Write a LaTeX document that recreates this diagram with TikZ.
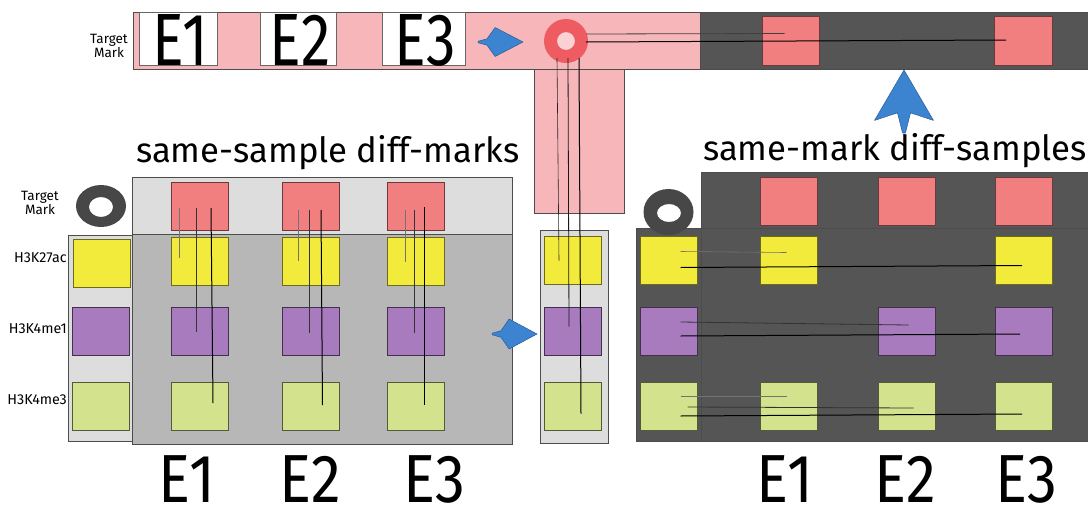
\documentclass[tikz,border=0pt]{standalone}
\usepackage{fontspec}
\setmainfont{Fira Sans}
\newfontfamily\condfont[FakeStretch=0.8]{Fira Sans}
\newfontfamily\widecondfont[FakeStretch=0.88]{Fira Sans}
\usetikzlibrary{calc}

\definecolor{pinkbar}{HTML}{F7B7BA}
\definecolor{ringred}{HTML}{EE5B61}
\definecolor{ringhole}{HTML}{FAD2D4}
\definecolor{redsq}{HTML}{F27F80}
\definecolor{yellowsq}{HTML}{F3EB3C}
\definecolor{purplesq}{HTML}{A77BBD}
\definecolor{greensq}{HTML}{D2E28D}
\definecolor{lightgrey}{HTML}{DDDDDD}
\definecolor{midgrey}{HTML}{B7B7B7}
\definecolor{darkbg}{HTML}{555555}
\definecolor{ringdark}{HTML}{474747}
\definecolor{arrowblue}{HTML}{3C84CF}
\definecolor{arrowedge}{HTML}{2A5C9A}

\tikzset{
  panel/.style={draw=black!70, line width=0.8pt},
  sq/.style={draw, line width=0.8pt, minimum width=57, minimum height=48, inner sep=0pt},
  redbox/.style={sq, fill=redsq, draw=redsq!45!black},
  yellowbox/.style={sq, fill=yellowsq, draw=yellowsq!45!black},
  purplebox/.style={sq, fill=purplesq, draw=purplesq!40!black},
  greenbox/.style={sq, fill=greensq, draw=greensq!40!black},
  linka/.style={draw=black!55, line width=0.6pt},
  linkb/.style={draw=black!80, line width=0.8pt},
  linkc/.style={draw=black, line width=1pt},
  rowlabel/.style={font=\fontsize{14.3}{14}\selectfont, anchor=east, inner sep=0pt},
  marklabel/.style={font=\fontsize{13.5}{11.5}\selectfont, align=center, inner sep=0pt},
  title/.style={font=\fontsize{34.7}{35}\selectfont, anchor=base west, inner sep=0pt},
  bigE/.style={font=\condfont\fontsize{74}{74}\selectfont, anchor=base, inner sep=0pt},
  bigEb/.style={font=\widecondfont\fontsize{68}{68}\selectfont, anchor=base, inner sep=0pt},
  arrowshape/.style={fill=arrowblue, draw=arrowedge, line width=0.5pt, line join=round},
}

% blue arrow: tip x, tip y, angle, length, half width, barb fraction, notch fraction
\newcommand\bluearrow[7]{%
  \filldraw[arrowshape, shift={(#1,#2)}, rotate=#3]
    (0,0) -- (-#6*#4, #5) -- (-#7*#4, 0.22*#5) -- (-#4, 0.05*#5)
    -- (-#4, -0.05*#5) -- (-#7*#4, -0.22*#5) -- (-#6*#4, -#5) -- cycle;}

\begin{document}
\begin{tikzpicture}[x=1pt, y=-1pt]
\useasboundingbox (0,0) rectangle (1088,509);

% ---------- top strip: target mark across samples ----------
\draw[panel, fill=pinkbar] (534,69) rectangle (624,213);
\draw[panel, fill=pinkbar] (133,12) rectangle (700,69);
\draw[panel, fill=darkbg] (700,12) rectangle (1088,69);

\node[marklabel] (tm-top) at (109,46) {Target\\Mark};

\draw[draw=black!60, line width=0.5pt, fill=white] (139,12) rectangle (217,65);
\draw[draw=black!60, line width=0.5pt, fill=white] (260,12) rectangle (336,65);
\draw[draw=black!60, line width=0.5pt, fill=white] (382,12) rectangle (465,65);
\node[bigE] (te1) at (180,65) {E1};
\node[bigE] (te2) at (300,65) {E2};
\node[bigE] (te3) at (425,65) {E3};

\bluearrow{523}{42}{0}{45}{14.5}{0.62}{0.8}

% red target ring
\fill[ringhole] (566,41) circle [radius=9];
\fill[ringred, even odd rule] (566,41) circle [radius=22] (566,41) circle [radius=9];

\node[redbox, minimum width=57, minimum height=49] (tr1) at (790.5,40.5) {};
\node[redbox, minimum width=58, minimum height=49] (tr2) at (1023,40.5) {};

% ---------- left panel: same sample, different marks ----------
\node[title] (title-l) at (136,162) {same-sample diff-marks};

\draw[panel, fill=lightgrey] (132,177) rectangle (512,234);
\draw[panel, fill=lightgrey] (68,235) rectangle (132,441);
\draw[panel, fill=midgrey] (132,234) rectangle (512,444);

\fill[ringdark, even odd rule] (101,206) ellipse [x radius=25, y radius=21]
                                (101,207) ellipse [x radius=12, y radius=10];
\node[marklabel] (tm-left) at (40,203) {Target\\Mark};
\node[rowlabel] (lab-y) at (67,258) {H3K27ac};
\node[rowlabel] (lab-p) at (67,329) {H3K4me1};
\node[rowlabel] (lab-g) at (67,400) {H3K4me3};

\node[yellowbox] (ls-y) at (101.5,263.5) {};
\node[purplebox] (ls-p) at (100.5,331.5) {};
\node[greenbox]  (ls-g) at (100.5,406) {};

\foreach \c/\x in {1/200, 2/310.5, 3/416} {
  \node[redbox]    (l\c-r) at (\x,206.5) {};
  \node[yellowbox] (l\c-y) at (\x,261) {};
  \node[purplebox] (l\c-p) at (\x,331.5) {};
  \node[greenbox]  (l\c-g) at (\x,406) {};
}

% links from each target mark down to the other marks of the same sample
\draw[linka] ([shift={(-21,1)}]l1-r.center) -- ([shift={(-21,-3)}]l1-y.center);
\draw[linkb] ([shift={(-4,1.5)}]l1-r.center) -- ([shift={(-4,0)}]l1-p.center);
\draw[linkc] ([shift={(11,1.5)}]l1-r.center) -- ([shift={(13,-3)}]l1-g.center);
\draw[linka] ([shift={(-12.5,3.5)}]l2-r.center) -- ([shift={(-12.5,0)}]l2-y.center);
\draw[linkb] ([shift={(-1.5,3.5)}]l2-r.center) -- ([shift={(-1.5,1.5)}]l2-p.center);
\draw[linkc] ([shift={(10.5,3.5)}]l2-r.center) -- ([shift={(12,-1)}]l2-g.center);
\draw[linka] ([shift={(-11,3.5)}]l3-r.center) -- ([shift={(-11,1)}]l3-y.center);
\draw[linkb] ([shift={(-2,3.5)}]l3-r.center) -- ([shift={(-2,1.5)}]l3-p.center);
\draw[linkc] ([shift={(8,0.5)}]l3-r.center) -- ([shift={(8,-1)}]l3-g.center);

% ---------- middle column: one sample's marks ----------
\draw[panel, fill=lightgrey] (540,230) rectangle (608,443);
\node[yellowbox] (m-y) at (573,260.5) {};
\node[purplebox] (m-p) at (573,331.5) {};
\node[greenbox]  (m-g) at (573,406.5) {};

\bluearrow{537}{334}{0}{45}{15}{0.62}{0.8}

% ring to middle column
\draw[linka, draw=black!85] (557,58) -- ([shift={(-14,0)}]m-y.center);
\draw[linkb, draw=black!90] (568,58) -- ([shift={(-4,-5)}]m-p.center);
\draw[linkc] (579,58) -- ([shift={(8,7)}]m-g.center);

% ring to top strip squares
\draw[linkb, draw=black!75] (586,34) -- ([shift={(-6,-7)}]tr1.center);
\draw[linkc] (586,42) -- ([shift={(-17,-0.5)}]tr2.center);

% ---------- right panel: same mark, different samples ----------
\bluearrow{904}{70}{90}{63}{29.5}{0.8}{0.68}
\node[title] (title-r) at (703,160) {same-mark diff-samples};

\draw[panel, fill=darkbg] (701,172) rectangle (1088,228);
\draw[panel, fill=darkbg] (636,228) rectangle (701,441);
\draw[panel, fill=darkbg] (701,228) rectangle (1088,441);

\fill[ringdark, even odd rule] (668.5,212) ellipse [x radius=25, y radius=23]
                                (669,213) ellipse [x radius=12, y radius=9];

\node[yellowbox] (rs-y) at (668.5,260.5) {};
\node[purplebox] (rs-p) at (668.5,331.5) {};
\node[greenbox]  (rs-g) at (668.5,406) {};

\foreach \c/\x in {1/788.5, 2/906.5, 3/1023.5} {
  \node[redbox] (r\c-r) at (\x,201) {};
}
\node[yellowbox] (r1-y) at (788.5,260.5) {};
\node[yellowbox] (r3-y) at (1023.5,260.5) {};
\node[purplebox] (r2-p) at (906.5,331.5) {};
\node[purplebox] (r3-p) at (1023.5,331.5) {};
\node[greenbox]  (r1-g) at (788.5,406) {};
\node[greenbox]  (r2-g) at (906.5,406) {};
\node[greenbox]  (r3-g) at (1023.5,406) {};

% links from each mark of the first sample to the other samples
\draw[linka] ([shift={(12,-9)}]rs-y.center) -- ([shift={(-2,-8)}]r1-y.center);
\draw[linkc] ([shift={(12,7)}]rs-y.center) -- ([shift={(-1.5,5)}]r3-y.center);
\draw[linkb] ([shift={(12,-9.5)}]rs-p.center) -- ([shift={(2,-6.5)}]r2-p.center);
\draw[linkc] ([shift={(12,4.5)}]rs-p.center) -- ([shift={(-3.5,2.5)}]r3-p.center);
\draw[linka] ([shift={(12,-10)}]rs-g.center) -- ([shift={(-2,-10)}]r1-g.center);
\draw[linkb] ([shift={(19,1)}]rs-g.center) -- ([shift={(7,2)}]r2-g.center);
\draw[linkc] ([shift={(12,10)}]rs-g.center) -- ([shift={(-1.5,8)}]r3-g.center);

% ---------- sample labels along the bottom ----------
\node[bigEb] (be1) at (187,502) {E1};
\node[bigEb] (be2) at (310,502) {E2};
\node[bigEb] (be3) at (434,502) {E3};
\node[bigEb] (bf1) at (785,502) {E1};
\node[bigEb] (bf2) at (905,502) {E2};
\node[bigEb] (bf3) at (1026,502) {E3};
\end{tikzpicture}
\end{document}
